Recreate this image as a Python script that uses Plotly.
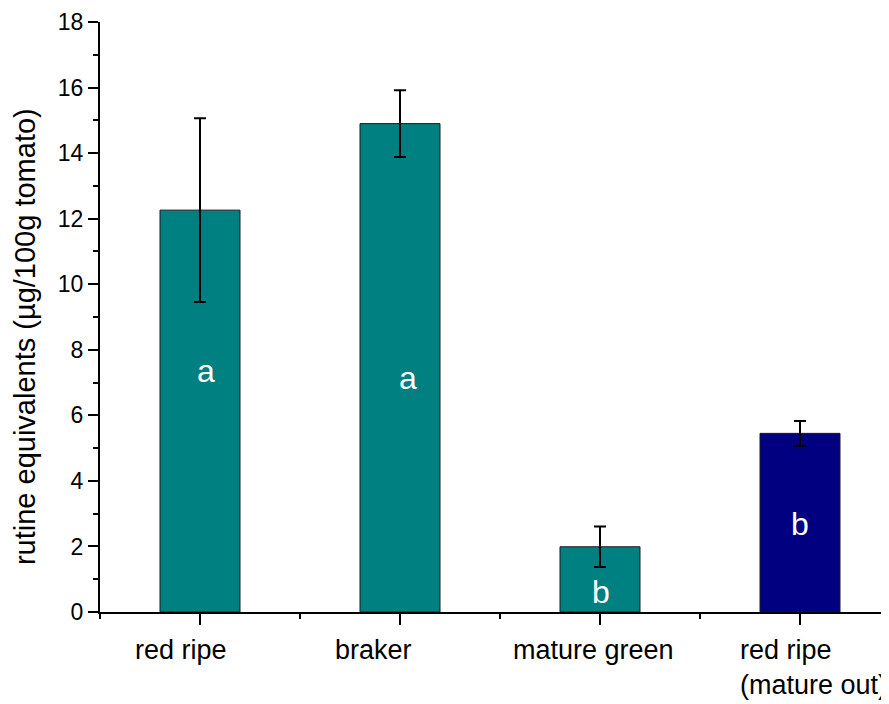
import plotly.graph_objects as go

categories = ["red ripe", "braker", "mature green", "red ripe<br>(mature out)"]
values = [12.26, 14.90, 1.99, 5.45]
errors = [2.80, 1.02, 0.62, 0.38]
bar_colors = ["#008080", "#008080", "#008080", "#000080"]
letters = ["a", "a", "b", "b"]
letter_y = [7.34, 7.15, 0.62, 2.69]
letter_dx = [0.03, 0.04, 0.005, 0.0]
label_shift = [-19, -27, -7, -62]
label_anchor = ["center", "center", "center", "left"]
y_ticks = [0, 2, 4, 6, 8, 10, 12, 14, 16, 18]
y_title = "rutine equivalents (µg/100g tomato)"

xpos = list(range(1, len(categories) + 1))
FONT = "Arial, Liberation Sans, sans-serif"

fig = go.Figure()
fig.add_trace(go.Bar(
    x=xpos, y=values, width=0.4,
    marker=dict(color=bar_colors, line=dict(color="#1a1a1a", width=1)),
    error_y=dict(type="data", array=errors, visible=True,
                 color="black", thickness=2, width=6),
    showlegend=False,
))

annotations = []
for i, (xv, let, ly) in enumerate(zip(xpos, letters, letter_y)):
    annotations.append(dict(x=xv + letter_dx[i], y=ly, xref="x", yref="y",
                            text=let, showarrow=False,
                            font=dict(family=FONT, size=32, color="white"),
                            xanchor="center", yanchor="middle"))
for xv, cat, sh, anc in zip(xpos, categories, label_shift, label_anchor):
    annotations.append(dict(x=xv, y=0, xref="x", yref="paper", text=cat,
                            showarrow=False, xanchor=anc, yanchor="top",
                            align="left", xshift=sh, yshift=-21,
                            font=dict(family=FONT, size=27, color="black")))
# y-axis title (placed as a rotated annotation to match the reference offset)
annotations.append(dict(x=0, y=0.466, xref="paper", yref="paper", text=y_title,
                        textangle=-90, showarrow=False, xanchor="center",
                        yanchor="middle", xshift=-75,
                        font=dict(family=FONT, size=29, color="black")))

fig.update_layout(
    width=881, height=696,
    margin=dict(l=92, r=0, t=14, b=92),
    plot_bgcolor="white", paper_bgcolor="white",
    bargap=0.6,
    annotations=annotations,
    xaxis=dict(range=[0.5, 4.445], showline=True, linecolor="black", linewidth=2,
               showgrid=False, zeroline=False, ticks="outside", ticklen=11,
               tickwidth=2, tickcolor="black", tickvals=xpos,
               showticklabels=False, automargin=False,
               minor=dict(tickvals=[0.5, 1.5, 2.5, 3.5, 4.5], ticks="outside",
                          ticklen=5, tickwidth=2, tickcolor="black")),
    yaxis=dict(range=[0, 18], showline=True, linecolor="black", linewidth=2,
               showgrid=False, zeroline=False, ticks="outside", ticklen=10,
               tickwidth=2, tickcolor="black", tickvals=y_ticks,
               automargin=False,
               tickfont=dict(family=FONT, size=23, color="black"),
               minor=dict(dtick=1, tick0=0, ticks="outside", ticklen=5,
                          tickwidth=2, tickcolor="black")),
)

fig.write_html("out.html")
